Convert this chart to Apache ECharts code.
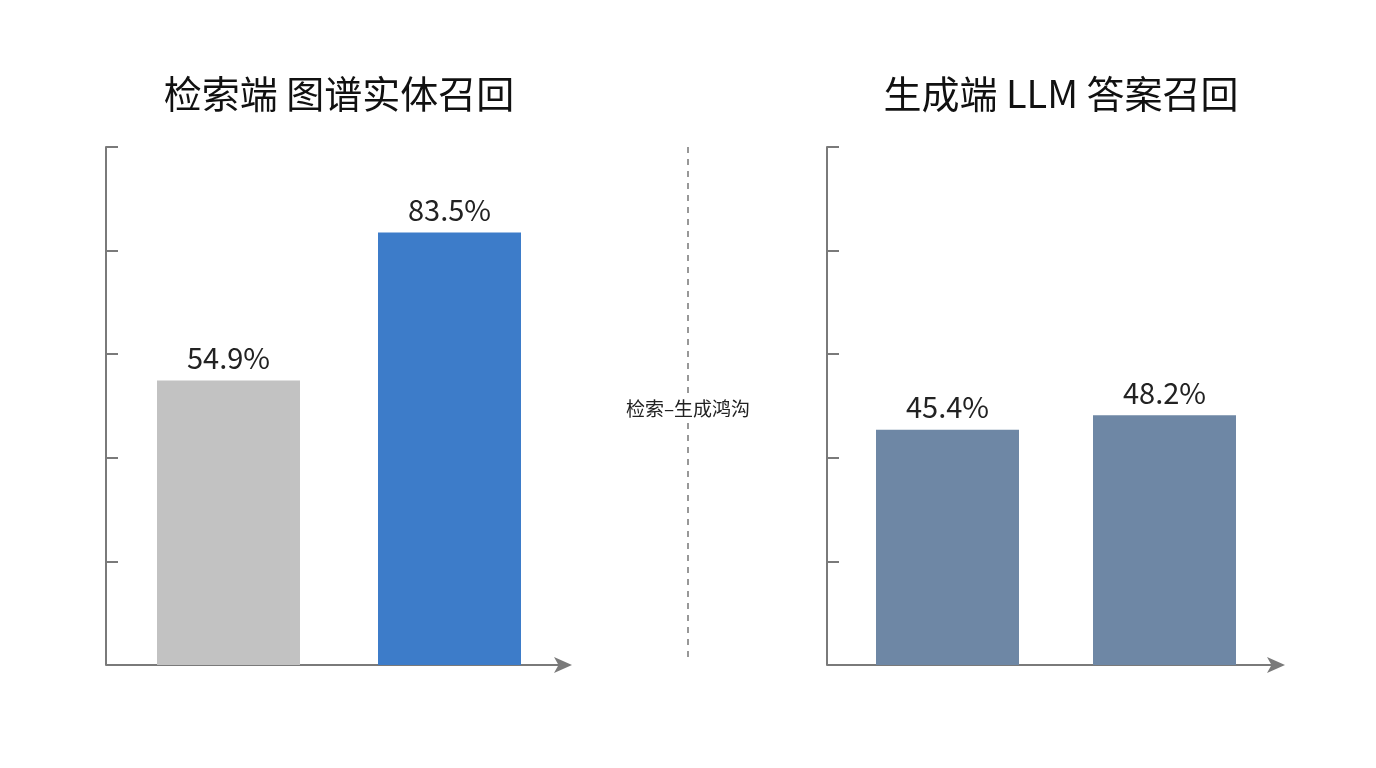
<!DOCTYPE html>
<html><head><meta charset="utf-8">
<script src="https://cdn.jsdelivr.net/npm/echarts@6/dist/echarts.min.js"></script>
<style>html,body{margin:0;background:#fff}#c{width:1376px;height:768px}</style></head>
<body><div id="c"></div>
<script>
const leftTitle = '检索端 图谱实体召回';
const rightTitle = '生成端 LLM 答案召回';
const leftCats = ['基线', '图谱'];
const leftValues = [54.9, 83.5];
const rightCats = ['基线', '图谱'];
const rightValues = [45.4, 48.2];
const gapLabel = '检索–生成鸿沟';
const leftColors = ['#c2c2c2', '#3d7cc9'];
const rightColor = '#6e87a5';
const font = '"Noto Sans CJK SC","Noto Sans",sans-serif';
const chart = echarts.init(document.getElementById('c'));
function xAxis(i, cats){return {type:'category', gridIndex:i, data:cats,
  axisLine:{lineStyle:{color:'#7a7a7a',width:2}, symbol:['none','arrow'], symbolSize:[12,18], symbolOffset:[0,12]},
  axisTick:{show:false}, axisLabel:{show:false}};}
function yAxis(i){return {type:'value', gridIndex:i, min:0, max:100, interval:20, offset:12,
  axisLine:{show:true, lineStyle:{color:'#7a7a7a',width:2}},
  axisTick:{show:true, inside:true, length:12, lineStyle:{color:'#7a7a7a',width:2}},
  axisLabel:{show:false}, splitLine:{show:false}};}
const lbl = {show:true, position:'top', fontSize:29, color:'#222', fontFamily:font, distance:8,
  formatter: p => p.value.toFixed(1) + '%'};
chart.setOption({
  animation:false,
  title:[
    {text:leftTitle, left:334, top:70, textAlign:'center', textStyle:{fontSize:38, fontWeight:'normal', color:'#111', fontFamily:font}},
    {text:rightTitle, left:1056, top:70, textAlign:'center', textStyle:{fontSize:38, fontWeight:'normal', color:'#111', fontFamily:font}}
  ],
  grid:[
    {left:118, top:147, width:442, height:518},
    {left:839, top:147, width:434, height:518}
  ],
  xAxis:[xAxis(0,leftCats), xAxis(1,rightCats)],
  yAxis:[yAxis(0), yAxis(1)],
  series:[
    {type:'bar', xAxisIndex:0, yAxisIndex:0, barWidth:143, label:lbl,
     data:leftValues.map((v,i)=>({value:v, itemStyle:{color:leftColors[i]}}))},
    {type:'bar', xAxisIndex:1, yAxisIndex:1, barWidth:143, label:lbl,
     data:rightValues.map(v=>({value:v, itemStyle:{color:rightColor}}))}
  ],
  graphic:[
    {type:'line', shape:{x1:688, y1:147, x2:688, y2:660}, style:{stroke:'#777', lineWidth:1.5, lineDash:[6,6]}},
    {type:'text', x:688, y:409, style:{text:gapLabel, fontSize:19, fill:'#222', fontFamily:font, textAlign:'center', textVerticalAlign:'middle', backgroundColor:'#fff', padding:[4,2]}}
  ]
});
</script></body></html>
